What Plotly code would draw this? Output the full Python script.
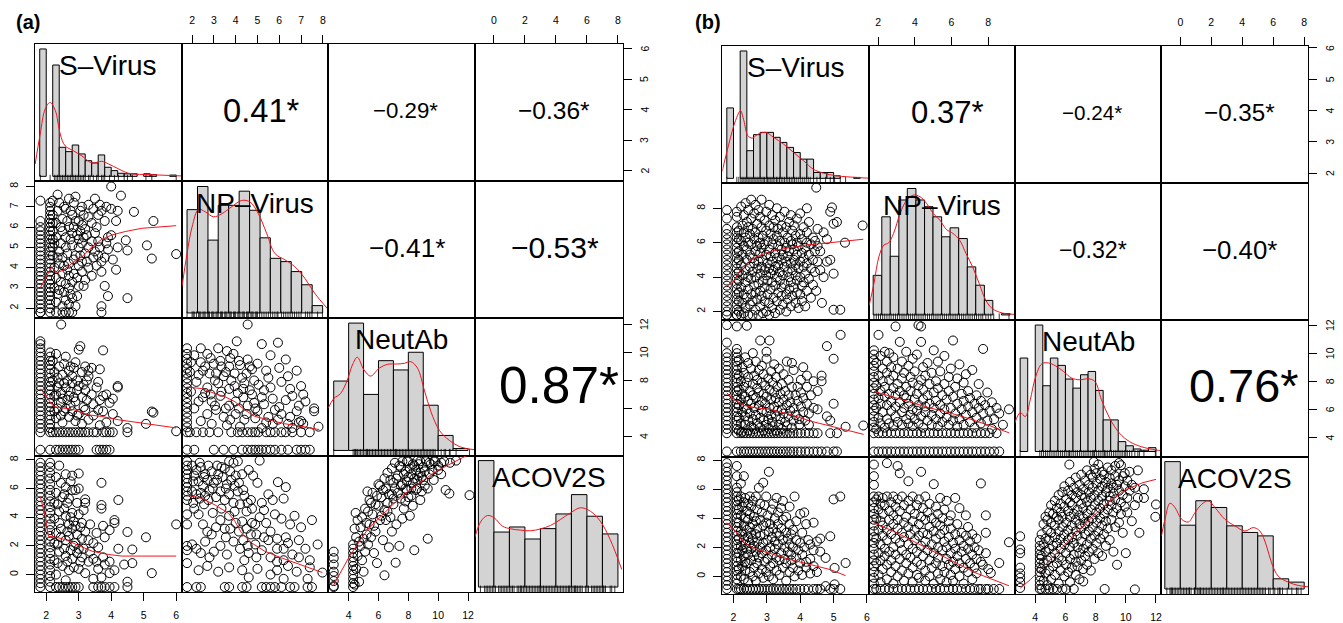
import plotly.graph_objects as go

# ---------------------------------------------------------------- data
var_labels = ["S\u2013Virus", "NP\u2013Virus", "NeutAb", "ACOV2S"]
panel_tags = ["(a)", "(b)"]

# observed min / max of each variable (S, NP, NeutAb, ACOV2S)
a_limits = [(1.82, 6.0), (1.77, 8.0), (3.0, 12.1), (-0.87, 7.95)]
b_limits = [(1.83, 5.9), (1.8, 9.15), (3.0, 12.0), (-0.87, 7.9)]
a_ticks = [[2, 3, 4, 5, 6], [2, 3, 4, 5, 6, 7, 8], [4, 6, 8, 10, 12], [0, 2, 4, 6, 8]]
b_ticks = [[2, 3, 4, 5, 6], [2, 4, 6, 8], [4, 6, 8, 10, 12], [0, 2, 4, 6, 8]]

# correlations for pairs (S,NP) (S,NAb) (S,ACOV) (NP,NAb) (NP,ACOV) (NAb,ACOV)
a_corr = [0.41, -0.29, -0.36, -0.41, -0.53, 0.87]
b_corr = [0.37, -0.24, -0.35, -0.32, -0.40, 0.76]

# histograms: break points and relative bar heights
a_s_breaks = [1.8, 2.0, 2.2, 2.4, 2.6, 2.8, 3.0, 3.2, 3.4, 3.6, 3.8, 4.0, 4.2, 4.4, 4.6, 4.8, 5.0, 5.2, 5.4, 5.6, 5.8, 6.0]
a_s_counts = [1.0, 0, 0.874, 0.228, 0.194, 0.246, 0.176, 0.123, 0.105, 0.168, 0.071, 0.045, 0.024, 0.02, 0.02, 0, 0.02, 0.013, 0, 0, 0.01]
a_np_breaks = [1.77, 2.25, 2.73, 3.2, 3.68, 4.16, 4.64, 5.12, 5.59, 6.07, 6.55, 7.03, 7.51, 7.99]
a_np_counts = [0.817, 1.0, 0.576, 0.851, 0.851, 0.963, 0.812, 0.594, 0.432, 0.406, 0.327, 0.223, 0.058]
a_nab_breaks = [3, 4, 5, 6, 7, 8, 9, 10, 11, 12]
a_nab_counts = [0.545, 1.0, 0.44, 0.705, 0.632, 0.771, 0.355, 0.118, 0.015]
a_acov_breaks = [-1, 0, 1, 2, 3, 4, 5, 6, 7, 8]
a_acov_counts = [1.0, 0.435, 0.475, 0.38, 0.462, 0.578, 0.731, 0.56, 0.42]

b_s_breaks = [1.8, 2.0, 2.2, 2.4, 2.6, 2.8, 3.0, 3.2, 3.4, 3.6, 3.8, 4.0, 4.2, 4.4, 4.6, 4.8, 5.0, 5.2, 5.4, 5.6, 5.8, 6.0]
b_s_counts = [0.553, 0, 1.0, 0.217, 0.343, 0.361, 0.361, 0.322, 0.282, 0.243, 0.203, 0.151, 0.151, 0.046, 0.046, 0.046, 0.02, 0, 0, 0.007, 0]
b_np_breaks = [1.73, 2.2, 2.66, 3.13, 3.59, 4.06, 4.53, 4.99, 5.46, 5.92, 6.39, 6.86, 7.32, 7.79, 8.25, 8.72, 9.19]
b_np_counts = [0.313, 0.776, 0.464, 0.909, 1.0, 0.909, 0.856, 0.776, 0.618, 0.689, 0.604, 0.38, 0.235, 0.115, 0, 0.01]
b_nab_breaks = [3.0, 3.5, 4.0, 4.5, 5.0, 5.5, 6.0, 6.5, 7.0, 7.5, 8.0, 8.5, 9.0, 9.5, 10.0, 10.5, 11.0, 11.5, 12.0]
b_nab_counts = [0.739, 0, 1.0, 0.52, 0.739, 0.681, 0.573, 0.501, 0.607, 0.633, 0.483, 0.25, 0.25, 0.078, 0.045, 0.02, 0.01, 0.03]
b_acov_breaks = [-1, 0, 1, 2, 3, 4, 5, 6, 7, 8]
b_acov_counts = [1.0, 0.501, 0.693, 0.64, 0.496, 0.444, 0.417, 0.08, 0.054]

# kernel density curves (value, relative height)
a_s_dens = [(1.66, 0.097), (1.815, 0.333), (1.97, 0.53), (2.12, 0.58), (2.28, 0.516), (2.43, 0.333), (2.58, 0.24), (2.84, 0.2), (3.1, 0.16), (3.41, 0.105), (3.71, 0.118), (3.92, 0.097), (4.23, 0.058), (4.54, 0.024), (5.25, 0.013), (6.18, 0.003)]
a_np_dens = [(1.54, 0.21), (1.77, 0.47), (2.0, 0.68), (2.3, 0.82), (2.6, 0.80), (2.99, 0.76), (3.37, 0.785), (3.82, 0.84), (4.28, 0.89), (4.66, 0.877), (5.04, 0.785), (5.42, 0.63), (5.8, 0.47), (6.26, 0.42), (6.71, 0.366), (7.17, 0.275), (7.62, 0.157), (8.23, 0.03)]
a_nab_dens = [(2.61, 0.329), (3.01, 0.408), (3.46, 0.447), (3.91, 0.553), (4.25, 0.671), (4.58, 0.732), (5.03, 0.632), (5.48, 0.584), (6.04, 0.645), (6.6, 0.676), (7.27, 0.679), (7.72, 0.684), (8.17, 0.697), (8.62, 0.645), (9.07, 0.474), (9.52, 0.303), (10.08, 0.158), (10.75, 0.079), (11.53, 0.026), (12.47, 0.005)]
a_acov_dens = [(-1.22, 0.397), (-0.83, 0.521), (-0.41, 0.566), (0.02, 0.547), (0.56, 0.481), (1.09, 0.46), (1.73, 0.45), (2.37, 0.445), (3.01, 0.46), (3.65, 0.487), (4.29, 0.534), (4.94, 0.587), (5.58, 0.627), (6.22, 0.6), (6.86, 0.521), (7.5, 0.376), (8.25, 0.138)]
b_s_dens = [(1.66, 0.054), (1.86, 0.269), (2.06, 0.453), (2.21, 0.531), (2.31, 0.453), (2.43, 0.335), (2.56, 0.316), (2.71, 0.343), (2.96, 0.361), (3.2, 0.322), (3.5, 0.269), (3.8, 0.203), (4.1, 0.138), (4.39, 0.072), (4.69, 0.041), (5.09, 0.02), (5.69, 0.007), (6.06, 0.001)]
b_np_dens = [(1.51, 0.075), (1.77, 0.247), (2.04, 0.459), (2.31, 0.552), (2.57, 0.57), (2.84, 0.644), (3.2, 0.803), (3.56, 0.909), (3.92, 0.948), (4.28, 0.935), (4.64, 0.882), (5.0, 0.803), (5.36, 0.75), (5.72, 0.676), (6.08, 0.644), (6.44, 0.591), (6.79, 0.485), (7.15, 0.38), (7.51, 0.247), (7.87, 0.115), (8.23, 0.049), (8.77, 0.015), (9.44, 0.004)]
b_nab_dens = [(2.64, 0.224), (3.01, 0.308), (3.34, 0.276), (3.67, 0.409), (4.0, 0.581), (4.44, 0.694), (4.88, 0.7), (5.32, 0.679), (5.86, 0.634), (6.41, 0.581), (6.96, 0.567), (7.51, 0.575), (7.95, 0.554), (8.39, 0.409), (8.93, 0.263), (9.59, 0.144), (10.25, 0.078), (11.02, 0.038), (12.0, 0.012), (12.36, 0.007)]
b_acov_dens = [(-1.22, 0.416), (-0.99, 0.547), (-0.67, 0.673), (-0.34, 0.639), (0.09, 0.547), (0.52, 0.526), (0.95, 0.6), (1.38, 0.665), (1.81, 0.692), (2.24, 0.639), (2.88, 0.547), (3.53, 0.495), (4.17, 0.455), (4.71, 0.482), (5.14, 0.455), (5.57, 0.337), (5.89, 0.206), (6.32, 0.101), (6.97, 0.054), (7.61, 0.028), (8.25, 0.017)]

# scatter points, grouped as (x value, [y values])
a_np_vs_s = [
    (1.82, [1.8, 1.8, 2.0, 2.2, 2.4, 2.6, 2.8, 3.0, 3.2, 3.4, 3.6, 3.8, 4.0, 4.2, 4.4, 4.6, 4.8, 5.0, 5.2, 5.4, 5.6, 5.8, 6.0, 6.3, 7.3]),
    (2.12, [1.8, 2.0, 2.2, 2.4, 2.6, 2.8, 3.0, 3.2, 3.4, 3.6, 3.8, 4.0, 4.2, 4.4, 4.6, 4.8, 5.0, 5.2, 5.4, 5.6, 5.8, 6.0, 6.2, 6.4, 6.6, 6.8, 7.0, 7.2]),
    (2.2, [4.6, 5.0, 5.4, 5.8, 6.2, 6.6, 7.3]), (2.25, [3.0, 4.0, 5.2]), (2.3, [1.8, 2.3, 3.5, 5.5, 6.2]),
    (2.35, [2.7, 4.5, 6.8, 7.6]), (2.4, [2.9, 4.2, 4.8, 7.2]), (2.45, [3.3, 5.2, 6.0]),
    (2.5, [1.8, 2.1, 3.7, 4.5, 5.8, 6.4]), (2.55, [2.8, 4.1, 7.0]), (2.6, [1.8, 2.4, 3.2, 5.0, 5.5, 6.9]),
    (2.65, [3.9, 4.7, 6.3]), (2.7, [1.8, 2.2, 3.0, 3.6, 4.2, 6.0, 7.4]), (2.75, [2.7, 5.4, 6.8]),
    (2.8, [1.8, 2.5, 3.3, 5.1, 5.7, 6.6]), (2.85, [3.7, 4.4, 6.0, 7.2]), (2.9, [2.1, 4.6, 6.3, 7.5]),
    (2.95, [2.6, 3.5, 5.6]), (3.0, [3.1, 4.1, 5.0, 5.4, 6.3]), (3.05, [4.6, 5.8, 6.8]),
    (3.1, [3.8, 4.3, 5.2, 6.1, 7.0]), (3.15, [3.1, 5.5, 6.6]), (3.2, [3.4, 4.7, 5.9]), (3.25, [4.3, 5.6]),
    (3.3, [4.0, 5.0, 6.5, 7.1]), (3.4, [3.6, 5.3, 6.2]), (3.45, [4.5, 6.9]), (3.5, [4.8, 5.7, 7.4]),
    (3.55, [4.1, 6.0]), (3.6, [4.6, 5.3, 6.6]), (3.65, [5.0, 7.1]), (3.7, [1.8, 2.1, 3.8, 4.3, 6.8]),
    (3.8, [3.1, 4.5, 6.3]), (3.85, [5.2, 7.0]), (3.9, [2.6, 4.9, 5.5]), (4.0, [5.6, 6.9, 8.0]), (4.05, [4.4]),
    (4.15, [3.9, 6.3]), (4.2, [5.0, 6.8]), (4.3, [7.55]), (4.45, [5.35]),
    (4.5, [4.85, 2.5]), (4.7, [6.75]), (5.1, [5.1]), (5.25, [4.45]), (5.3, [6.3]), (6.0, [4.67]),
]
a_nab_vs_s = [
    (1.82, [3.05, 4.3, 4.6, 4.9, 5.2, 5.5, 5.8, 6.1, 6.4, 6.7, 7.0, 7.3, 7.6, 7.9, 8.2, 8.5, 8.8, 9.1, 9.4, 9.7, 10.0, 10.3, 10.6, 10.8]),
    (2.12, [3.05, 4.3, 4.6, 4.9, 5.2, 5.5, 5.8, 6.1, 6.4, 6.7, 7.0, 7.3, 7.6, 7.9, 8.2, 8.5, 8.8, 9.1, 9.4, 9.7, 10.0]),
    (2.2, [8.0, 9.4, 4.3]), (2.25, [5.8, 6.9, 8.6]), (2.3, [3.05, 4.3, 5.3, 7.0, 9.9]), (2.35, [6.0, 7.5, 8.2]),
    (2.4, [3.05, 4.3, 7.8, 9.0]), (2.45, [5.5, 6.4, 7.1]), (2.46, [12.0]),
    (2.5, [3.05, 4.3, 5.0, 6.7, 8.4]), (2.55, [7.8, 9.2, 5.8]), (2.6, [3.05, 4.3, 6.0, 7.5, 9.7]), (2.65, [6.6, 8.0]),
    (2.7, [3.05, 4.3, 5.4, 6.9, 8.7]), (2.75, [6.2, 7.2, 9.0]), (2.8, [3.05, 4.3, 5.8, 7.8, 8.3]), (2.85, [6.8, 8.9]),
    (2.9, [3.05, 4.3, 5.1, 6.5, 9.3]), (2.95, [5.5, 7.3, 8.0]), (3.0, [3.05, 4.3, 5.6, 7.6, 10.2]),
    (3.05, [10.45]), (3.1, [4.3, 4.9, 6.8, 8.6]), (3.15, [6.1, 7.7]), (3.2, [4.3, 5.9, 7.3, 9.0]), (3.25, [6.6, 8.0]),
    (3.3, [4.3, 5.2, 8.3, 8.7]), (3.4, [7.0, 8.9]),
    (3.45, [4.3, 5.5, 6.3]), (3.55, [3.05, 4.3, 7.5]), (3.6, [5.9, 7.9]), (3.65, [3.05, 4.8, 6.6, 8.8]),
    (3.75, [3.05, 4.3, 5.8, 6.9, 10.15]),
    (3.85, [3.05, 4.3, 5.0, 7.0]), (3.95, [3.05, 4.3, 6.4]), (4.05, [4.3, 5.6, 6.7]), (4.2, [7.5, 7.6, 5.1]),
    (4.5, [4.3, 4.6]), (5.07, [4.9]), (5.25, [5.78]), (5.3, [5.7]), (6.0, [4.37]),
]
a_acov_vs_s = [
    (1.82, [-0.87, -0.6, -0.3, 0.0, 0.3, 0.6, 0.9, 1.2, 1.5, 1.8, 2.1, 2.4, 2.7, 3.0, 3.3, 3.6, 3.9, 4.2, 4.5, 4.8, 5.1, 5.4, 5.7, 6.0, 6.3, 6.6, 6.9, 7.2, 7.5, 7.8]),
    (2.12, [-0.87, -0.5, -0.1, 0.3, 0.7, 1.1, 1.5, 1.9, 2.3, 2.7, 3.1, 3.5, 3.9, 4.3, 4.7, 5.1, 5.5, 5.9, 6.3, 6.7, 7.1, 7.5, 7.8]),
    (2.25, [1.0, 2.2, 3.9, 5.0]), (2.3, [-0.87, 0.0, 2.9, 5.7, 6.8]), (2.35, [0.8, 2.1, 4.9]),
    (2.4, [-0.87, 1.6, 3.6, 4.4, 7.6]), (2.45, [2.6, 3.2, 6.4]), (2.5, [-0.87, 0.6, 5.4]), (2.55, [1.8, 4.6, 5.6]),
    (2.6, [-0.87, -0.4, 1.3, 2.4, 4.1, 6.1, 7.0]), (2.65, [0.9, 3.0, 5.0]), (2.7, [-0.87, 0.3, 2.7, 3.5, 5.3]),
    (2.75, [1.7, 4.0, 6.5]), (2.8, [-0.87, 1.1, 3.2, 4.3, 5.9, 6.9]), (2.85, [0.5, 2.0, 3.7]),
    (2.9, [-0.87, 2.2, 3.4, 5.9]), (2.95, [1.5, 2.8, 5.0]), (3.0, [-0.87, 0.4, 1.8, 4.2, 6.0, 7.05]),
    (3.05, [0.9, 3.3]), (3.1, [1.2, 2.5, 3.6]), (3.15, [1.8, 4.5]),
    (3.2, [0.1, 3.0, 5.0, 5.25]), (3.3, [0.9, 2.4]), (3.35, [1.6, 3.5]), (3.45, [-0.87, -0.3, 1.1, 2.2]),
    (3.55, [0.9, 2.9]), (3.6, [-0.87, 0.4, 1.9]),
    (3.7, [-0.87, -0.2, 4.6, 4.85, 6.4]), (3.75, [1.2, 3.4]), (3.8, [-0.87, 0.7, 2.6]), (3.95, [-0.87, 0.1, 0.9, 3.1]),
    (4.1, [-0.87, 0.3, 3.6, 3.8]), (4.22, [1.8, 5.2]), (4.4, [0.7]), (4.5, [-0.87, -0.5, 2.97]),
    (4.65, [0.8, 1.75]), (5.07, [2.6]), (5.25, [0.1]), (6.0, [3.5]),
]
a_nab_vs_np = [
    (1.77, [3.05, 4.3, 4.65, 5.0, 5.35, 5.7, 6.05, 6.4, 6.75, 7.1, 7.45, 7.8, 8.15, 8.5, 8.85, 9.2, 9.55, 9.9, 10.3]),
    (1.9, [4.3, 8.6]), (1.95, [7.2, 9.3]), (2.1, [3.05, 6.0, 9.8]), (2.2, [4.3, 7.9]), (2.3, [8.4, 6.5]),
    (2.4, [5.1, 9.3, 10.3]), (2.5, [4.3, 6.8, 8.7]), (2.6, [9.0, 7.1]), (2.7, [5.6, 7.5, 9.9]), (2.8, [4.3, 8.5]),
    (2.85, [7.0, 9.6]), (2.9, [4.9, 6.5]), (3.0, [3.05, 9.2]), (3.05, [8.0, 6.2]), (3.1, [5.9, 8.5]),
    (3.2, [4.3, 7.8, 10.3]), (3.3, [6.9, 9.4]), (3.35, [7.2, 9.0]), (3.45, [3.05, 5.4, 8.3]), (3.55, [8.6, 6.0]),
    (3.6, [4.8, 10.1]), (3.7, [6.2, 7.4, 9.0]), (3.75, [9.6, 5.2]), (3.8, [4.3, 8.0]), (3.9, [3.05, 9.9]),
    (3.95, [7.6, 8.5]), (4.0, [5.6, 6.5]), (4.05, [10.8]), (4.1, [4.3, 7.1]), (4.15, [9.4, 6.0]), (4.2, [4.7, 9.1]),
    (4.3, [3.05, 4.3, 8.2]), (4.35, [7.4, 6.8]), (4.4, [5.2, 7.8]), (4.5, [8.5, 5.6]), (4.55, [3.05, 4.3, 6.2, 9.5, 12.0]),
    (4.65, [7.3, 9.0]), (4.75, [3.05, 4.3, 7.0, 8.8]), (4.85, [6.4, 8.0]), (4.9, [3.05, 4.3, 5.3, 6.0]),
    (5.0, [5.8, 9.2]), (5.05, [3.05, 4.3, 7.7]), (5.2, [3.05, 4.6, 6.8, 10.6]), (5.3, [6.3, 7.3]),
    (5.4, [3.05, 4.3, 5.0, 8.7]), (5.5, [5.4, 8.2]), (5.6, [3.05, 4.3, 7.5, 9.8]), (5.7, [6.7, 4.9]),
    (5.8, [3.05, 4.3, 5.9]), (5.94, [10.7, 5.2]), (6.0, [6.1, 8.9]), (6.1, [3.05, 4.3, 5.6, 7.9]),
    (6.3, [4.3, 6.6, 9.5]), (6.4, [3.05, 4.9, 8.3]), (6.5, [5.4, 7.4]), (6.6, [4.3, 4.6, 6.9]), (6.8, [3.05, 5.8, 8.7]),
    (6.9, [5.0, 6.2]), (7.0, [3.05, 4.3, 5.1, 7.6]), (7.1, [4.9, 7.0]), (7.2, [3.05, 6.5]), (7.4, [3.05, 4.3]),
    (7.6, [6.0, 5.8]), (7.8, [4.7]),
]
a_acov_vs_np = [
    (1.77, [-0.87, 0.8, 1.7, 2.0, 3.5, 4.2, 5.2, 5.5, 5.8, 6.1, 6.4, 6.7, 7.0, 7.3, 7.6, 7.9]),
    (2.0, [2.1, 5.8, 7.6]), (2.05, [6.5, 5.0]), (2.1, [4.6, 6.9]), (2.2, [-0.87, 1.8, 5.6, 7.3]), (2.3, [0.3, 4.2, 6.5]),
    (2.35, [7.8, 5.3]), (2.4, [-0.87, 1.5, 5.7, 7.5]), (2.5, [3.5, 6.2]), (2.55, [6.8, 4.9]), (2.6, [2.3, 5.5, 7.0]),
    (2.7, [0.6, 3.0, 6.6]), (2.75, [7.6, 5.2]), (2.8, [1.2, 5.9]), (2.9, [2.8, 7.2]), (2.95, [6.0, 4.3]),
    (3.0, [1.6, 6.4]), (3.1, [3.3, 5.4]), (3.15, [6.6, 7.6]), (3.2, [0.2, 7.0]), (3.3, [2.0, 3.8, 5.8]),
    (3.35, [7.5, 4.6]), (3.4, [6.8]), (3.5, [-0.87, 3.2, 5.2, 7.4]), (3.55, [6.0, 2.6]), (3.6, [1.4, 6.3]),
    (3.7, [-0.87, 0.5, 4.1, 5.6, 7.9]), (3.75, [7.2, 3.2]), (3.8, [6.6]), (3.9, [2.3, 5.0, 7.8]), (3.95, [6.2, 4.4]),
    (4.0, [3.6, 6.9]), (4.1, [5.8, 7.9]), (4.15, [6.4, 3.0]), (4.2, [1.8, 4.9]), (4.3, [-0.87, 0.3, 3.7, 7.0]),
    (4.35, [5.9, 2.4]), (4.4, [1.0, 5.5]), (4.5, [-0.87, 3.2, 4.4]), (4.55, [5.0, 2.0]), (4.6, [-0.2, 1.5, 7.3]),
    (4.7, [2.8, 5.2]), (4.75, [4.6, 3.6]), (4.8, [6.9]), (4.9, [2.1, 3.5]), (4.95, [2.8, 1.2]), (5.0, [0.4, 6.4]),
    (5.1, [4.0, 7.95]), (5.2, [-0.87, 1.7, 5.0]), (5.3, [2.6, 4.5]), (5.4, [-0.87, 3.6]), (5.5, [2.4, 5.6]),
    (5.6, [-0.87, 0.0, 3.0, 1.2]), (5.7, [5.2]), (5.8, [-0.87, 4.2]), (5.9, [0.3, 1.8, 2.5, 0.9]), (5.94, [6.45]),
    (6.1, [-0.87, 3.9]), (6.2, [-0.3, 5.3, 1.8, 1.0]), (6.3, [2.6, 6.1]), (6.4, [0.6, 2.2]), (6.5, [-0.87, 3.5]),
    (6.6, [1.4]), (6.7, [-0.87, 4.1]), (6.8, [0.2]), (6.9, [1.2, 2.4]), (7.0, [3.3]), (7.2, [1.8]),
    (7.3, [-0.87, -0.3]), (7.4, [1.0, 0.5]), (7.5, [-0.87, 3.8]), (7.76, [2.1]), (7.98, [0.14]),
]
a_acov_vs_nab = [
    (3.0, [-0.87, -0.8, -0.45, -0.1, 0.2, 0.7, 1.15, 1.6]),
    (4.3, [-0.87, -0.6, -0.3, 0.0, 0.3, 0.6, 0.9, 1.2, 1.5, 1.8, 2.1]),
    (4.4, [3.2, -0.7]), (4.47, [4.3]), (4.5, [2.6, 0.4]), (4.6, [3.8, 1.3]), (4.7, [-0.5, 2.3]), (4.8, [2.0, 3.3]),
    (4.9, [1.0, 4.0]), (5.0, [0.2, 2.5]), (5.1, [4.6, 1.6]), (5.2, [2.8, 3.6]), (5.26, [5.8]), (5.3, [2.1, 4.4]),
    (5.4, [3.5, 5.2]), (5.5, [5.0, 2.6]), (5.6, [4.2, 5.7]), (5.7, [1.5, 3.4]), (5.8, [3.0, 4.9]), (5.9, [0.8, 5.5]),
    (6.0, [4.8, 6.3]), (6.1, [6.2, 3.8]), (6.2, [5.4, 4.1]), (6.3, [2.4, 5.9]), (6.4, [-0.05, 4.5, 6.7]),
    (6.5, [3.8, 6.0]), (6.6, [5.0, 4.4, 7.1]), (6.7, [1.9, 5.6]), (6.8, [6.6, 4.0]), (6.9, [5.6, 3.0, 7.4]),
    (7.0, [4.9, 5.3, 6.4]), (7.1, [6.0, 7.8]), (7.15, [0.83]), (7.2, [3.5, 6.7]), (7.3, [6.9, 5.7]), (7.4, [2.0, 7.6]),
    (7.5, [5.3, 7.5, 6.2]), (7.6, [6.3, 3.9, 7.9]), (7.7, [4.6, 7.0]), (7.8, [7.2, 5.1, 6.0]), (7.9, [5.9, 6.5, 7.9]),
    (8.0, [6.8, 7.9, 5.4]), (8.1, [4.1, 7.4]), (8.2, [5.5, 6.0, 7.0]), (8.3, [6.4, 4.8, 7.7]), (8.4, [1.7, 7.6, 6.7]),
    (8.5, [7.3, 5.9]), (8.6, [6.0, 6.6, 7.95]), (8.7, [7.7, 6.9]), (8.8, [5.2, 7.9, 7.1]), (8.9, [6.8, 5.8]),
    (9.0, [7.5, 6.6]), (9.1, [6.2, 7.2]), (9.2, [7.9]), (9.3, [2.5, 6.0]), (9.4, [7.0, 7.8]), (9.5, [7.7]),
    (9.6, [7.3]), (9.7, [6.6, 7.9]), (9.8, [7.9]), (10.0, [7.3, 7.6]), (10.2, [7.8, 7.0]), (10.4, [7.9]),
    (10.5, [5.9]), (10.75, [5.65]), (10.8, [7.8]), (11.2, [7.95]), (12.1, [5.54]),
]

b_np_vs_s = [
    (1.8, [1.8, 1.8, 2.0, 2.3, 2.6, 2.9, 3.2, 3.5, 3.8, 4.1, 4.4, 4.7, 5.0, 5.3, 5.6, 5.9, 6.2, 6.5, 6.8, 7.4, 7.9]),
    (2.1, [1.8, 1.8, 2.1, 2.4, 2.7, 3.0, 3.3, 3.6, 3.9, 4.2, 4.5, 4.8, 5.1, 5.4, 5.7, 6.0, 6.3, 6.6, 6.9, 7.5, 7.8]),
    (2.16, [2.0, 2.6, 3.1, 3.8, 4.3, 5.0, 5.5, 6.2, 6.7]),
    (2.23, [1.8, 3.4, 4.7, 6.1, 8.1]), (2.27, [2.5, 4.1, 5.3, 7.0]), (2.31, [1.9, 3.0, 5.8, 6.6, 7.6]),
    (2.36, [2.2, 3.7, 4.4, 6.3, 8.3]), (2.4, [2.8, 5.0, 5.6, 7.2]), (2.44, [1.8, 3.3, 4.0, 6.0, 6.9, 7.9]),
    (2.49, [2.4, 4.6, 5.3, 6.5]), (2.53, [3.0, 3.9, 5.9, 7.4, 8.5]), (2.57, [1.8, 2.6, 4.3, 5.1, 6.8]),
    (2.62, [3.5, 4.8, 6.2, 7.7]), (2.66, [2.1, 3.1, 4.0, 5.5, 6.6, 8.2]), (2.71, [2.7, 4.5, 5.8, 7.1]),
    (2.75, [1.8, 3.6, 4.9, 6.3, 7.9]), (2.8, [2.3, 3.2, 4.2, 5.4, 6.0, 7.5]), (2.84, [2.9, 4.6, 5.7, 6.9, 8.5]),
    (2.88, [1.9, 3.8, 5.0, 6.4]), (2.93, [2.6, 3.4, 4.4, 5.9, 7.3]), (2.98, [2.0, 4.1, 5.3, 6.7, 7.8]),
    (3.02, [3.0, 3.8, 4.8, 6.1]), (3.07, [1.8, 2.5, 4.5, 5.6, 7.0, 8.2]), (3.11, [3.3, 4.2, 5.2, 6.5]),
    (3.16, [2.2, 3.7, 4.9, 5.9, 7.6]), (3.2, [2.8, 4.4, 6.2, 6.9]), (3.25, [1.9, 3.5, 4.6, 5.4, 7.3]),
    (3.3, [2.6, 4.0, 5.1, 6.4, 8.0]), (3.34, [3.1, 4.7, 5.8, 6.8]), (3.39, [2.1, 3.8, 4.3, 6.1, 7.5]),
    (3.44, [2.9, 3.4, 5.0, 5.6, 7.0]), (3.48, [2.4, 4.1, 5.3, 6.6]), (3.53, [3.6, 4.6, 6.0, 7.8]),
    (3.58, [2.0, 3.0, 4.9, 5.7, 6.9]), (3.62, [2.7, 4.3, 5.2, 6.3]), (3.67, [3.3, 4.0, 5.5, 7.2]),
    (3.72, [2.3, 3.7, 4.8, 6.1, 7.6]), (3.76, [2.9, 4.4, 5.9, 6.7]), (3.81, [3.4, 5.0, 5.6, 7.0]),
    (3.86, [2.5, 4.1, 4.7, 6.4]), (3.9, [3.1, 3.8, 5.3, 6.0, 7.4]), (3.95, [2.2, 4.5, 5.8]),
    (4.0, [3.0, 4.0, 4.9, 6.5, 7.7]), (4.05, [2.6, 3.5, 5.4, 6.2]), (4.1, [3.7, 4.6, 5.1, 6.9]),
    (4.15, [2.3, 4.2, 5.7]), (4.2, [3.2, 4.8, 6.0, 6.6, 8.0]), (4.26, [3.9, 5.3, 7.2]), (4.32, [2.8, 4.5, 5.9]),
    (4.38, [3.55, 5.0, 6.3]), (4.44, [4.3, 5.5, 6.1]), (4.48, [9.2, 3.2]), (4.52, [4.9, 5.8, 6.8]),
    (4.6, [4.4, 5.5]), (4.65, [2.5]), (4.7, [4.0, 6.6]), (4.8, [6.2, 4.9]), (4.9, [5.0, 7.8]), (4.95, [8.05]),
    (5.0, [2.1, 4.2, 7.1]), (5.1, [7.2]), (5.2, [2.1]), (5.34, [6.0]), (5.87, [7.0]),
]
b_nab_vs_s = [
    (1.8, [3.0, 4.3, 4.6, 4.9, 5.2, 5.5, 5.8, 6.1, 6.4, 6.7, 7.0, 7.3, 7.6, 7.9, 8.2, 8.5, 8.8, 9.1, 9.4, 9.7, 10.0, 10.75, 12.0]),
    (2.1, [3.0, 4.3, 4.6, 4.9, 5.2, 5.5, 5.8, 6.1, 6.4, 6.7, 7.0, 7.3, 7.6, 7.9, 8.2, 8.5, 8.8, 9.1, 9.4, 9.7, 10.0, 10.3, 11.9]),
    (2.16, [4.5, 5.4, 6.3, 7.4, 8.4, 9.5]), (2.22, [3.0, 4.3, 5.0, 6.7, 8.0]), (2.26, [4.4, 5.8, 7.1, 9.0]),
    (2.31, [3.0, 4.3, 6.2, 7.6, 8.6]), (2.35, [4.9, 5.5, 6.9, 9.7]), (2.4, [3.0, 4.3, 6.0, 7.9, 11.95]),
    (2.44, [4.5, 5.2, 6.6, 8.3, 9.3]), (2.49, [3.0, 4.3, 5.7, 7.3]), (2.53, [4.8, 6.4, 8.9]),
    (2.58, [3.0, 4.3, 5.3, 7.0, 7.8, 10.0]), (2.62, [4.6, 6.1, 8.4]), (2.67, [3.0, 4.3, 5.6, 6.8, 9.4]),
    (2.71, [5.0, 7.5, 8.1]), (2.76, [3.0, 4.3, 6.3, 7.2, 8.8]), (2.8, [4.7, 5.4, 10.9]),
    (2.85, [3.0, 4.3, 5.9, 6.6, 7.9, 9.1]), (2.9, [4.5, 5.2, 7.1, 8.5]), (2.95, [3.0, 4.3, 6.4, 7.7]),
    (2.99, [4.9, 5.8, 6.9, 9.6, 10.1]), (3.04, [3.0, 4.3, 5.3, 8.2]), (3.08, [4.6, 6.1, 7.4, 10.9]),
    (3.13, [3.0, 4.3, 5.6, 6.7, 8.7]), (3.17, [4.8, 5.1, 7.9]), (3.22, [3.0, 4.3, 6.2, 7.2, 9.2]),
    (3.27, [4.5, 5.5, 6.8, 8.3]), (3.31, [3.0, 4.3, 5.9, 7.6]), (3.36, [4.9, 6.5, 8.9]),
    (3.41, [3.0, 4.3, 5.3, 7.1]), (3.45, [4.6, 6.0, 7.8]), (3.5, [3.0, 4.3, 5.7, 6.7, 8.5]), (3.55, [5.1, 7.3]),
    (3.6, [3.0, 4.3, 4.8, 6.3, 9.4]), (3.65, [5.5, 7.0, 8.1]), (3.7, [3.0, 4.3, 5.9, 6.5]), (3.75, [4.7, 7.6, 9.3]),
    (3.8, [3.0, 4.3, 5.2, 6.1, 8.8]), (3.86, [5.6, 7.0]), (3.92, [3.0, 4.3, 6.6, 7.6]), (3.97, [4.9, 5.3]),
    (4.02, [3.0, 4.3, 6.2, 7.2, 8.1]), (4.09, [5.8, 6.8, 9.0]), (4.15, [3.0, 4.3, 5.2]), (4.2, [6.4, 7.6, 8.4]),
    (4.26, [3.0, 4.3, 4.9, 5.7]), (4.32, [7.0]), (4.4, [3.0, 4.3, 6.1, 8.0]), (4.52, [3.0, 4.3, 6.0, 7.3]),
    (4.64, [8.4, 8.0, 3.0]), (4.8, [5.5, 10.5, 3.0]), (4.9, [5.2, 4.3]), (5.0, [3.0, 6.4, 9.6]), (5.1, [4.3, 3.0]),
    (5.21, [11.3]), (5.36, [4.76]), (5.89, [4.85]),
]
b_acov_vs_s = [
    (1.8, [-0.87, -0.6, -0.3, 0.0, 0.3, 0.6, 0.9, 1.2, 1.5, 1.8, 2.1, 2.4, 2.7, 3.0, 3.3, 3.6, 3.9, 4.2, 4.5, 4.8, 5.1, 5.4, 5.7, 6.0, 6.3, 6.6, 6.9, 7.2, 7.5, 7.8]),
    (2.1, [-0.87, -0.5, -0.2, 0.1, 0.4, 0.7, 1.0, 1.3, 1.6, 1.9, 2.2, 2.5, 2.8, 3.1, 3.4, 3.7, 4.0, 4.3, 4.6, 4.9, 5.2, 5.5, 5.8, 6.1, 6.9, 7.6]),
    (2.16, [-0.87, 0.5, 1.6, 2.6, 3.7, 4.6, 5.3]), (2.22, [-0.87, 0.0, 1.1, 2.1, 3.1, 4.2, 5.5, 6.4]),
    (2.26, [0.7, 1.8, 2.9, 4.8]), (2.31, [-0.87, -0.2, 1.4, 2.5, 3.5, 5.1, 6.9]), (2.35, [0.4, 1.0, 2.2, 4.0, 5.4]),
    (2.4, [-0.87, 0.9, 1.9, 3.2, 4.5]), (2.44, [-0.4, 1.5, 2.7, 3.9, 5.0]), (2.49, [-0.87, 0.3, 2.3, 3.4, 4.3, 5.5]),
    (2.53, [1.1, 1.9, 3.0, 4.8]), (2.58, [-0.87, 0.0, 2.6, 3.6, 5.2]), (2.62, [0.6, 1.4, 2.1, 4.1]),
    (2.67, [-0.87, -0.3, 1.7, 2.9, 3.8, 5.5]), (2.71, [0.9, 2.4, 3.3, 4.6]), (2.76, [-0.87, 0.2, 1.3, 6.1]),
    (2.8, [2.0, 2.8, 3.9, 5.0]), (2.85, [-0.87, 0.5, 1.6, 4.4]), (2.89, [-0.1, 2.3, 3.5, 6.45]),
    (2.93, [-0.87, 1.0, 2.9, 4.9]), (2.98, [0.3, 1.8, 3.7, 5.5]), (3.02, [-0.87, 1.2, 2.5, 4.2]),
    (3.06, [0.0, 3.1, 7.2]), (3.1, [-0.87, 0.7, 2.0, 3.6]), (3.15, [1.5, 2.7, 4.6]),
    (3.19, [-0.87, -0.2, 0.9, 3.3, 5.0]), (3.24, [1.9, 2.4, 4.0]), (3.29, [-0.87, 0.4, 1.3, 3.0, 5.4]),
    (3.33, [2.2, 3.6, 4.4]), (3.38, [-0.87, 0.1, 1.1, 2.8]), (3.43, [1.6, 3.3, 4.7]),
    (3.48, [-0.87, 0.6, 2.5, 3.9, 5.2]), (3.53, [1.2, 2.0]), (3.58, [-0.87, -0.3, 0.9, 3.0, 4.1]),
    (3.63, [1.7, 2.6]), (3.68, [-0.87, 0.3, 2.2, 3.6, 4.8]), (3.73, [1.1, 1.5, 2.9]), (3.78, [-0.87, 0.6, 2.0, 3.2]),
    (3.83, [5.5, 0.0]), (3.88, [-0.87, 1.3, 2.5, 3.8]), (3.94, [0.4, 1.8]), (4.0, [-0.87, 0.9, 2.3, 4.3]),
    (4.06, [0.1, 1.5, 3.0]), (4.12, [-0.87, 2.0, 4.4]), (4.18, [0.6, 1.0, 3.6]), (4.24, [-0.87, 2.5]),
    (4.3, [0.2, 1.2, 2.2]), (4.4, [-0.87, 0.7, 1.8, 3.7]), (4.5, [-0.87, 0.3, 2.4]), (4.6, [-0.87, 1.7, 2.6]),
    (4.76, [-0.67, 1.27]), (4.9, [-0.87, 2.76]), (5.0, [5.3, -0.87]), (5.03, [-0.55, 0.58]), (5.2, [5.5, -0.87]),
    (5.36, [0.92]),
]
b_nab_vs_np = [
    (1.77, [3.0, 4.3, 4.7, 5.1, 5.5, 5.9, 6.3, 6.7, 7.1, 7.5, 7.9, 8.3, 8.7, 9.1, 9.5, 9.9, 10.2]),
    (1.9, [4.6, 6.1, 7.7, 9.3]), (2.02, [3.0, 4.3, 5.4, 6.8, 8.4, 11.3]), (2.13, [5.0, 6.4, 7.3, 9.8]),
    (2.25, [3.0, 4.3, 5.8, 8.0, 8.9]), (2.36, [4.7, 6.9, 7.6, 10.1]), (2.48, [3.0, 4.3, 5.3, 6.3, 8.6, 9.4]),
    (2.6, [5.0, 7.1, 8.1, 10.0]), (2.71, [3.0, 4.3, 5.9, 6.6, 9.0]), (2.83, [4.8, 7.5, 8.4, 9.7]),
    (2.95, [3.0, 4.3, 5.5, 6.2, 7.0, 11.9]), (3.06, [5.1, 7.8, 8.9]), (3.18, [3.0, 4.3, 6.5, 7.3, 10.8]),
    (3.3, [4.9, 5.8, 8.2, 9.4]), (3.41, [3.0, 4.3, 6.1, 7.0, 8.6]), (3.53, [5.3, 6.8, 7.6, 10.1]),
    (3.65, [3.0, 4.3, 5.0, 6.4, 9.1]), (3.76, [5.6, 7.3, 8.3]), (3.88, [3.0, 4.3, 4.8, 6.0, 7.9, 9.6]),
    (3.99, [5.3, 6.7, 8.7]), (4.11, [3.0, 4.3, 5.9, 7.1, 9.9]), (4.2, [5.0, 6.3, 7.7, 12.0]),
    (4.34, [3.0, 4.3, 5.5, 8.1, 10.8, 11.9]), (4.45, [4.7, 6.7, 7.4, 9.0]), (4.57, [3.0, 4.3, 5.8, 6.2, 8.4]),
    (4.69, [5.2, 7.0, 9.3]), (4.8, [3.0, 4.3, 6.4, 7.8]), (4.92, [4.9, 5.6, 8.6]), (5.03, [3.0, 4.3, 6.1, 7.2, 10.2]),
    (5.15, [5.3, 6.6, 8.0]), (5.26, [3.0, 4.3, 4.8, 7.5, 9.4]), (5.38, [5.7, 6.3, 8.7]), (5.5, [3.0, 4.3, 5.1, 7.0]),
    (5.61, [6.0, 7.8, 9.8]), (5.73, [3.0, 4.3, 5.4, 6.7]), (5.85, [4.9, 7.3, 8.3]), (5.96, [3.0, 4.3, 6.1, 8.9]),
    (6.08, [5.2, 6.9, 10.9]), (6.2, [3.0, 4.3, 5.7, 7.6]), (6.31, [4.8, 6.4, 8.2]), (6.43, [3.0, 4.3, 5.3, 9.2]),
    (6.55, [6.0, 7.1]), (6.66, [3.0, 4.3, 4.9, 6.6, 7.9]), (6.78, [5.6, 8.5]), (6.9, [3.0, 4.3, 6.2, 7.3]),
    (7.01, [5.1, 6.8]), (7.13, [3.0, 4.3, 5.8, 8.8]), (7.25, [4.7, 6.4]), (7.36, [3.0, 4.3, 5.4, 7.0]),
    (7.48, [6.1, 7.8]), (7.6, [3.0, 4.3, 5.0, 6.6]), (7.72, [5.7, 10.3]), (7.83, [3.0, 4.3, 6.3]), (7.95, [5.2, 7.2]),
    (8.07, [3.0, 4.3, 5.9]), (8.2, [4.6, 6.5]), (8.32, [3.0, 5.3]), (8.45, [4.3, 6.1]), (8.6, [3.0, 5.7]),
    (8.8, [4.9]), (9.13, [6.0]),
]
b_acov_vs_np = [
    (1.77, [-0.87, -0.5, -0.1, 0.3, 0.7, 1.1, 1.5, 1.9, 2.3, 2.7, 3.1, 3.5, 3.9, 4.3, 4.7, 5.1, 5.5, 6.3, 6.9, 7.7]),
    (1.9, [-0.87, 0.9, 2.6, 4.0, 5.3]), (2.02, [0.1, 1.6, 3.2, 4.6, 5.5]), (2.13, [-0.87, -0.4, 1.1, 2.2, 3.8, 5.0]),
    (2.25, [0.5, 2.8, 3.5, 4.3, 5.4]), (2.36, [-0.87, 1.4, 1.9, 4.9]), (2.48, [-0.2, 0.8, 2.5, 3.2, 5.5, 7.8]),
    (2.6, [-0.87, 1.7, 3.9, 4.5]), (2.71, [0.3, 1.1, 2.9, 5.1]), (2.83, [-0.87, -0.5, 2.0, 3.6, 4.2, 5.5]),
    (2.95, [0.7, 1.5, 2.6, 4.8]), (3.06, [-0.87, 0.0, 3.3, 3.9, 5.3, 7.6]), (3.18, [1.2, 2.3, 4.5, 7.1]),
    (3.3, [-0.87, 0.4, 1.8, 3.0, 5.5]), (3.41, [-0.3, 2.7, 3.7, 4.9]), (3.53, [-0.87, 0.9, 1.5, 4.1]),
    (3.65, [0.2, 2.2, 3.4, 5.2, 6.55]), (3.76, [-0.87, 1.3, 2.9, 4.6]), (3.88, [-0.4, 0.6, 1.9, 3.8, 5.5]),
    (3.99, [-0.87, 2.5, 3.2, 4.3]), (4.11, [0.1, 1.0, 1.7, 4.9]), (4.22, [-0.87, -0.1, 2.8, 3.6, 5.3]),
    (4.34, [0.8, 2.1, 4.1, 7.2]), (4.45, [-0.87, 1.4, 3.0, 4.7]), (4.57, [-0.3, 0.4, 2.4, 3.9, 5.5]),
    (4.69, [-0.87, 1.8, 2.9, 4.4]), (4.8, [0.0, 1.1, 3.4, 5.0]), (4.92, [-0.87, 0.6, 2.2, 4.0]),
    (5.03, [-0.5, 1.6, 3.1, 6.35]), (5.15, [-0.87, 0.9, 2.6, 3.7, 4.8]), (5.26, [0.2, 1.3, 2.0, 4.3]),
    (5.38, [-0.87, -0.2, 2.9, 3.5, 5.4]), (5.5, [0.7, 1.8, 4.0]), (5.61, [-0.87, 0.3, 2.4, 3.2, 4.6]),
    (5.73, [-0.4, 1.2, 2.0, 5.2]), (5.85, [-0.87, 0.8, 2.7, 3.8]), (5.96, [0.1, 1.6, 3.3, 4.2]),
    (6.08, [-0.87, -0.3, 1.0, 2.3]), (6.2, [0.5, 1.9, 2.9, 5.4]), (6.31, [-0.87, 1.4, 3.6]),
    (6.43, [0.0, 0.9, 2.5, 4.7]), (6.55, [-0.87, 1.7, 3.0]), (6.66, [-0.5, 0.6, 2.1]), (6.78, [-0.87, 1.2, 2.8, 4.2]),
    (6.9, [0.3, 1.9, 3.4]), (7.01, [-0.87, 0.9, 2.4]), (7.13, [-0.2, 1.5, 2.9]), (7.25, [-0.87, 0.6, 2.0]),
    (7.36, [0.2, 1.2, 2.6]), (7.48, [-0.87, 1.8]), (7.6, [-0.87, 1.0, 6.4]), (7.7, [0.8]),
    (7.87, [4.2, 3.0, 1.6, -0.87]), (8.0, [-0.87, 0.5]), (8.14, [0.23]), (8.3, [-0.87]), (8.6, [0.92, -0.87]),
    (9.13, [2.35]),
]
b_acov_vs_nab = [
    (3.0, [-0.8, -0.4, -0.1, 0.2, 0.6, 1.6, 1.85, 2.76]),
    (4.3, [-0.87, -0.6, -0.3, 0.0, 0.3, 0.6, 0.9, 1.2, 1.5, 1.8, 2.1, 2.5]),
    (4.42, [-0.87, 0.5, 1.4, 2.9]), (4.55, [-0.3, 0.9, 2.2, 3.6]), (4.68, [-0.87, 0.2, 1.7, 2.6, 4.1]),
    (4.8, [-0.6, 1.1, 3.2, 3.9]), (4.93, [-0.87, 0.4, 1.9, 2.5, 4.4]), (5.05, [-0.2, 1.3, 3.0, 3.7, 4.9]),
    (5.18, [-0.87, 0.7, 2.1, 4.3]), (5.3, [0.1, 1.6, 2.7, 3.5, 5.2]), (5.43, [-0.87, 0.9, 2.3, 4.1, 4.7]),
    (5.55, [-0.5, 1.3, 3.1, 3.9, 5.6]), (5.68, [0.4, 1.9, 2.6, 4.4, 5.0]), (5.8, [-0.87, 1.1, 3.4, 4.1, 5.8]),
    (5.93, [0.0, 2.2, 2.9, 4.8, 6.2]), (6.05, [-0.87, 0.8, 1.6, 3.7, 5.3]), (6.18, [0.3, 2.5, 3.2, 4.5, 5.9]),
    (6.26, [7.7]), (6.3, [-0.4, 1.2, 2.0, 4.1, 5.1, 6.5]), (6.43, [0.6, 2.7, 3.5, 4.9, 5.6]),
    (6.55, [-0.87, 1.5, 2.3, 4.3, 6.1]), (6.68, [0.1, 1.0, 3.1, 3.9, 5.4, 6.8]), (6.8, [0.7, 2.0, 2.8, 4.6, 5.8]),
    (6.93, [-0.2, 1.6, 3.6, 4.2, 6.3]), (7.05, [1.1, 2.4, 3.3, 5.0, 5.6, 7.0]), (7.18, [-0.35, 0.5, 1.9, 4.0, 4.7, 6.0]),
    (7.3, [1.4, 2.9, 3.6, 5.4, 6.6]), (7.43, [0.8, 2.2, 4.3, 5.1, 7.3]), (7.55, [1.7, 3.1, 3.8, 5.8, 6.3]),
    (7.68, [0.4, 2.6, 4.6, 5.4, 7.0]), (7.8, [1.9, 3.4, 4.0, 6.1, 6.8]), (7.88, [7.88]),
    (7.93, [1.2, 2.8, 4.9, 5.6, 7.4]), (8.05, [2.3, 3.7, 4.4, 6.4, 7.1]), (8.18, [1.6, 3.1, 5.2, 5.9, 7.7]),
    (8.3, [2.6, 4.0, 4.7, 6.7]), (8.43, [1.4, 3.5, 5.5, 6.2, 7.2]), (8.55, [2.9, 4.3, 5.0, 7.0]), (8.6, [-0.87]),
    (8.68, [2.1, 3.8, 5.8, 6.5]), (8.8, [3.3, 4.6, 6.1, 7.5]), (8.93, [2.5, 5.2, 5.5, 6.8]),
    (9.05, [3.9, 4.9, 6.4, 7.3]), (9.18, [1.7, 4.4, 5.7, 6.1]), (9.3, [3.4, 5.3, 6.9, 7.6]), (9.42, [0.8, 4.7, 6.3]),
    (9.55, [3.7, 5.9, 6.6, 7.8]), (9.68, [4.3, 5.1, 7.65]), (9.8, [3.0, 5.6, 6.9]), (9.93, [4.8, 6.2, 7.1]),
    (10.0, [1.6]), (10.1, [4.4, 5.4, 6.6]), (10.25, [7.2, 5.9]), (10.4, [3.8, 6.3]), (10.6, [-0.9, 4.9, 6.1]),
    (10.8, [7.3, 5.4]), (10.9, [3.0]), (11.2, [5.4, 6.0]), (11.96, [4.1]), (12.0, [4.95]),
]

# smoothed (lowess) fits, (x, y)
a_fit_np_s = [(1.82, 3.02), (2.17, 4.05), (2.33, 3.75), (2.53, 3.88), (2.79, 4.21), (3.1, 4.54), (3.41, 5.03), (3.71, 5.4), (4.02, 5.61), (4.43, 5.78), (4.94, 5.94), (5.46, 6.02), (6.0, 6.07)]
a_fit_nab_s = [(1.82, 7.42), (2.23, 6.13), (2.58, 6.01), (2.89, 5.89), (3.3, 5.54), (3.71, 5.43), (4.23, 5.19), (5.05, 4.91), (6.0, 4.61)]
a_fit_acov_s = [(1.82, 5.43), (1.97, 4.05), (2.07, 2.67), (2.28, 2.62), (2.58, 2.44), (2.99, 2.02), (3.41, 1.63), (3.92, 1.4), (4.33, 1.29), (4.94, 1.29), (6.0, 1.29)]
a_fit_nab_np = [(1.77, 7.53), (2.45, 7.42), (3.06, 7.06), (3.52, 6.83), (3.97, 6.48), (4.42, 5.89), (4.88, 5.43), (5.48, 5.19), (6.24, 4.91), (7.0, 4.73), (7.83, 4.49)]
a_fit_acov_np = [(1.77, 5.54), (2.45, 5.31), (3.06, 4.85), (3.67, 4.28), (3.97, 3.7), (4.27, 2.9), (4.73, 2.21), (5.33, 1.63), (6.09, 1.17), (6.7, 0.83), (7.98, 0.14)]
a_fit_acov_nab = [(2.97, -0.78), (3.46, 0.14), (4.0, 1.17), (4.58, 2.09), (5.26, 3.13), (6.15, 4.05), (7.05, 4.97), (7.95, 5.77), (8.84, 6.46), (9.96, 7.26), (10.86, 7.72), (11.53, 8.07), (12.1, 8.4)]
b_fit_np_s = [(1.79, 3.45), (2.01, 3.74), (2.21, 4.42), (2.46, 4.91), (2.71, 5.2), (3.1, 5.49), (3.6, 5.68), (4.2, 5.87), (4.9, 6.0), (5.89, 6.2)]
b_fit_nab_s = [(1.8, 7.17), (2.02, 6.69), (2.32, 6.27), (2.72, 6.1), (3.11, 5.99), (3.71, 5.63), (4.31, 5.16), (4.91, 4.81), (5.4, 4.52), (5.9, 4.22)]
b_fit_acov_s = [(1.8, 3.69), (2.02, 3.23), (2.32, 2.3), (2.72, 1.84), (3.21, 1.5), (3.71, 1.15), (4.31, 0.81), (4.91, 0.46), (5.36, 0.05)]
b_fit_nab_np = [(1.77, 7.28), (2.66, 6.93), (3.74, 6.5), (4.82, 6.1), (5.9, 5.75), (6.97, 5.33), (8.05, 4.85), (9.13, 4.33)]
b_fit_acov_np = [(1.77, 3.69), (3.02, 3.0), (4.1, 2.3), (5.18, 1.61), (6.25, 0.92), (7.33, 0.23), (9.13, -0.65)]
b_fit_acov_nab = [(3.01, -0.81), (3.67, -0.23), (4.33, 0.46), (5.21, 1.38), (6.08, 2.3), (6.96, 3.23), (7.84, 4.15), (8.93, 5.18), (10.03, 5.99), (11.13, 6.45), (12.0, 6.68)]

# ---------------------------------------------------------------- layout / style
PAGE_OFF = 8               # the page body margin that the figure sits inside
FW, FH = 1343 - PAGE_OFF, 623 - PAGE_OFF
FONT = "Liberation Sans, Arial, Helvetica, sans-serif"
GRID = {"a": ([33, 180, 327, 474, 622], [43, 181, 318, 456, 593]),
        "b": ([722, 869, 1015, 1162, 1309], [45, 183, 320, 457, 595])}
TAG_X = {"a": 26, "b": 708}
RED = "#f0141e"
EMW = {"0": 0.556, "1": 0.556, "2": 0.556, "3": 0.556, "4": 0.556, "5": 0.556, "6": 0.556,
       "7": 0.556, "8": 0.556, "9": 0.556, ".": 0.278, "*": 0.389, "\u2212": 0.584}
STANDOFF = {"bottom": 5, "top": 7, "left": 4}
RIGHT_LABEL_GAP = 22       # distance from the right frame to the centre of right-side tick labels


def px_x(p):
    return (p - PAGE_OFF) / FW


def px_y(p):
    return 1 - (p - PAGE_OFF) / FH


def unpack(strips):
    xs, ys = [], []
    for x, col in strips:
        for y in col:
            xs.append(x)
            ys.append(y)
    return xs, ys


def ext(lo, hi):
    d = (hi - lo) * 0.04
    return [lo - d, hi + d]


panels = [
    ("a", a_limits, a_ticks,
     [(a_s_breaks, a_s_counts), (a_np_breaks, a_np_counts), (a_nab_breaks, a_nab_counts), (a_acov_breaks, a_acov_counts)],
     [a_s_dens, a_np_dens, a_nab_dens, a_acov_dens],
     {(1, 0): a_np_vs_s, (2, 0): a_nab_vs_s, (3, 0): a_acov_vs_s, (2, 1): a_nab_vs_np, (3, 1): a_acov_vs_np, (3, 2): a_acov_vs_nab},
     {(1, 0): a_fit_np_s, (2, 0): a_fit_nab_s, (3, 0): a_fit_acov_s, (2, 1): a_fit_nab_np, (3, 1): a_fit_acov_np, (3, 2): a_fit_acov_nab},
     a_corr),
    ("b", b_limits, b_ticks,
     [(b_s_breaks, b_s_counts), (b_np_breaks, b_np_counts), (b_nab_breaks, b_nab_counts), (b_acov_breaks, b_acov_counts)],
     [b_s_dens, b_np_dens, b_nab_dens, b_acov_dens],
     {(1, 0): b_np_vs_s, (2, 0): b_nab_vs_s, (3, 0): b_acov_vs_s, (2, 1): b_nab_vs_np, (3, 1): b_acov_vs_np, (3, 2): b_acov_vs_nab},
     {(1, 0): b_fit_np_s, (2, 0): b_fit_nab_s, (3, 0): b_fit_acov_s, (2, 1): b_fit_nab_np, (3, 1): b_fit_acov_np, (3, 2): b_fit_acov_nab},
     b_corr),
]
CORR_PAIRS = [(0, 1), (0, 2), (0, 3), (1, 2), (1, 3), (2, 3)]

fig = go.Figure()
axes = {}
annotations = []
tickfont = dict(family=FONT, size=10.5, color="black")
k = 0
for tag, lims, ticks, hists, denss, pts, fits, corr in panels:
    gx, gy = GRID[tag]
    ranges = [ext(lo, hi) for lo, hi in lims]
    s_vals = unpack(pts[(3, 0)])[0]
    np_vals = unpack(pts[(3, 1)])[0]
    nab_vals = unpack(pts[(3, 2)])[0]
    acov_vals = unpack(pts[(3, 0)])[1]
    rugs = [s_vals, np_vals, nab_vals, acov_vals]
    for i in range(4):
        for j in range(4):
            k += 1
            xid = "x" if k == 1 else f"x{k}"
            yid = "y" if k == 1 else f"y{k}"
            base = dict(showgrid=False, zeroline=False, showline=True, mirror=True,
                        linecolor="black", linewidth=1, ticks="", showticklabels=False,
                        fixedrange=True, tickfont=tickfont, ticklen=8, tickwidth=1,
                        tickcolor="black")
            xa = dict(base, domain=[px_x(gx[j]), px_x(gx[j + 1])], range=ranges[j], anchor=yid)
            ya = dict(base, domain=[px_y(gy[i + 1]), px_y(gy[i])],
                      range=ranges[i] if i != j else [-0.04, 1.04], anchor=xid)
            if (i == 3 and j in (0, 2)) or (i == 0 and j in (1, 3)):
                side = "bottom" if i == 3 else "top"
                xa.update(side=side, ticks="outside", tickvals=ticks[j], showticklabels=True,
                          ticklabelstandoff=STANDOFF[side])
            if j == 0 and i in (1, 3):
                ya.update(side="left", ticks="outside", tickvals=ticks[i], showticklabels=True,
                          tickangle=-90, ticklabelstandoff=STANDOFF["left"])
            if j == 3 and i in (0, 2):
                # right-hand axis: tick marks from the axis, labels placed on the same scale
                ya.update(side="right", ticks="outside", tickvals=ticks[i])
                for tv in ticks[i]:
                    annotations.append(dict(text=str(tv), xref="paper", yref=yid, x=px_x(gx[4] + RIGHT_LABEL_GAP),
                                            y=tv, xanchor="center", yanchor="middle", textangle=-90,
                                            showarrow=False, font=tickfont))
            axes["xaxis" if k == 1 else f"xaxis{k}"] = xa
            axes["yaxis" if k == 1 else f"yaxis{k}"] = ya
            cx = (gx[j] + gx[j + 1]) / 2
            cy = (gy[i] + gy[i + 1]) / 2
            if i == j:
                br, cn = hists[i]
                bx = [(br[n] + br[n + 1]) / 2 for n in range(len(cn)) if cn[n] > 0]
                bw = [br[n + 1] - br[n] for n in range(len(cn)) if cn[n] > 0]
                bh = [c for c in cn if c > 0]
                fig.add_trace(go.Bar(x=bx, y=bh, width=bw, xaxis=xid, yaxis=yid,
                                     marker=dict(color="#d3d3d3", line=dict(color="black", width=1)),
                                     hoverinfo="skip"))
                rx, ry = [], []
                for v in sorted(set(rugs[i])):
                    rx += [v, v, None]
                    ry += [-0.04, 0.012, None]
                fig.add_trace(go.Scatter(x=rx, y=ry, mode="lines", xaxis=xid, yaxis=yid,
                                         line=dict(color="black", width=0.8), hoverinfo="skip"))
                dx = [p[0] for p in denss[i]]
                dy = [p[1] for p in denss[i]]
                fig.add_trace(go.Scatter(x=dx, y=dy, mode="lines", xaxis=xid, yaxis=yid,
                                         line=dict(color=RED, width=1, shape="spline"), hoverinfo="skip"))
                annotations.append(dict(text=var_labels[i], xref="paper", yref="paper",
                                        x=px_x(cx), y=px_y(gy[i] + 22), xanchor="center",
                                        yanchor="middle", showarrow=False,
                                        font=dict(family=FONT, size=28, color="black")))
            elif i > j:
                pxs, pys = unpack(pts[(i, j)])
                fig.add_trace(go.Scatter(x=pxs, y=pys, mode="markers", xaxis=xid, yaxis=yid,
                                         marker=dict(symbol="circle-open", size=9, color="black",
                                                     line=dict(width=1, color="black")),
                                         hoverinfo="skip"))
                fx = [p[0] for p in fits[(i, j)]]
                fy = [p[1] for p in fits[(i, j)]]
                fig.add_trace(go.Scatter(x=fx, y=fy, mode="lines", xaxis=xid, yaxis=yid,
                                         line=dict(color=RED, width=1), hoverinfo="skip"))
            else:
                # empty holder so that the cell frame and its ticks are drawn
                fig.add_trace(go.Scatter(x=[sum(ranges[j]) / 2], y=[sum(ranges[i]) / 2], mode="markers",
                                         xaxis=xid, yaxis=yid, marker=dict(size=1, opacity=0),
                                         hoverinfo="skip"))
                r = corr[CORR_PAIRS.index((i, j))]
                txt = f"{r:.2f}".replace("-", "\u2212") + "*"
                size = (94.8 * abs(r) + 37.5) / sum(EMW[c] for c in txt)
                annotations.append(dict(text=txt, xref="paper", yref="paper", x=px_x(cx),
                                        y=px_y(cy), xanchor="center", yanchor="middle",
                                        xshift=0.195 * size, yshift=2, showarrow=False,
                                        font=dict(family=FONT, size=size, color="black")))
    # panel tag, hung from the top edge of the page area
    annotations.append(dict(text="<b>" + panel_tags["ab".index(tag)] + "</b>", xref="paper", yref="paper",
                            x=px_x(TAG_X[tag]), y=1, xanchor="center", yanchor="top",
                            showarrow=False, font=dict(family=FONT, size=20, color="black")))

fig.update_layout(**axes)
fig.update_layout(width=FW, height=FH, autosize=False, margin=dict(l=0, r=0, t=0, b=0),
                  paper_bgcolor="white", plot_bgcolor="white", showlegend=False,
                  barmode="overlay", annotations=annotations, font=dict(family=FONT))
fig.write_html("out.html")
